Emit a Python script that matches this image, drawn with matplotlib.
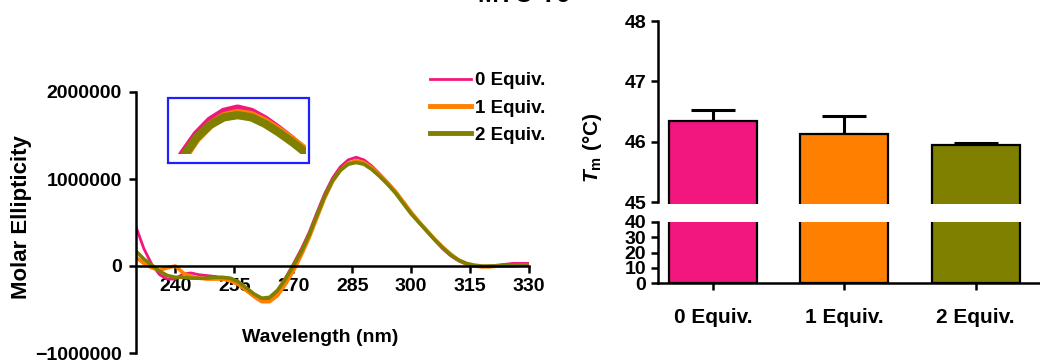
import numpy as np
import matplotlib
matplotlib.use("Agg")
import matplotlib.pyplot as plt
from matplotlib.patches import Rectangle

plt.rcParams['font.family'] = ['Liberation Sans', 'DejaVu Sans']
plt.rcParams['font.weight'] = 'bold'
plt.rcParams['mathtext.fontset'] = 'custom'
plt.rcParams['mathtext.it'] = 'Liberation Sans:italic:bold'
plt.rcParams['mathtext.rm'] = 'Liberation Sans:bold'

# CD spectra (molar ellipticity, in millions)
wavelength = np.arange(230, 331, 2)
ellip_0 = [0.45, 0.20, 0.02, -0.10, -0.15, -0.15, -0.09, -0.08, -0.10, -0.11,
           -0.12, -0.14, -0.17, -0.21, -0.27, -0.34, -0.39, -0.38, -0.29, -0.14,
           0.02, 0.19, 0.38, 0.61, 0.83, 1.01, 1.14, 1.22, 1.25, 1.22,
           1.15, 1.06, 0.96, 0.85, 0.73, 0.61, 0.50, 0.40, 0.30, 0.20,
           0.12, 0.06, 0.02, 0.00, -0.01, 0.00, 0.01, 0.02, 0.03, 0.03, 0.03]
ellip_1 = [0.10, 0.03, -0.02, -0.05, -0.02, 0.00, -0.08, -0.12, -0.14, -0.15,
           -0.15, -0.15, -0.17, -0.21, -0.28, -0.35, -0.41, -0.41, -0.34, -0.21,
           -0.06, 0.12, 0.32, 0.55, 0.78, 0.97, 1.10, 1.18, 1.21, 1.19,
           1.13, 1.05, 0.96, 0.86, 0.74, 0.62, 0.51, 0.41, 0.31, 0.22,
           0.14, 0.07, 0.03, 0.00, -0.01, -0.01, 0.00, 0.00, 0.00, 0.01, 0.01]
ellip_2 = [0.17, 0.08, 0.01, -0.06, -0.11, -0.13, -0.13, -0.14, -0.14, -0.14,
           -0.13, -0.13, -0.14, -0.18, -0.25, -0.32, -0.37, -0.36, -0.28, -0.15,
           0.00, 0.16, 0.35, 0.58, 0.80, 0.98, 1.10, 1.17, 1.19, 1.17,
           1.11, 1.03, 0.94, 0.84, 0.72, 0.60, 0.50, 0.40, 0.30, 0.21,
           0.13, 0.07, 0.03, 0.01, 0.00, 0.00, 0.00, 0.01, 0.01, 0.01, 0.01]

# melting temperatures
equiv = ['0 Equiv.', '1 Equiv.', '2 Equiv.']
tm_mean = [46.35, 46.12, 45.95]
tm_err = [0.17, 0.30, 0.03]

colors = ['#F2167F', '#FF8000', '#808000']
widths = [2.0, 2.6, 2.6]
series = [ellip_0, ellip_1, ellip_2]

W, H = 1040, 362
fig = plt.figure(figsize=(W/100, H/100), dpi=100)


def fbox(x0, y0, x1, y1):
    # pixel box (top-left origin) -> figure fraction rect
    return [x0/W, 1-y1/H, (x1-x0)/W, (y1-y0)/H]


# ---- left: CD spectra ----
ax = fig.add_axes(fbox(136, 92, 529, 353))
for ys, c, lw, lab in zip(series, colors, widths, equiv):
    ax.plot(wavelength, np.array(ys)*1e6, color=c, lw=lw, label=lab,
            solid_joinstyle='round')
ax.set_xlim(230, 330)
ax.set_ylim(-1e6, 2e6)
ax.spines['top'].set_visible(False)
ax.spines['right'].set_visible(False)
ax.spines['bottom'].set_position(('data', 0))
for s in ['left', 'bottom']:
    ax.spines[s].set_linewidth(1.8)
ax.set_xticks(np.arange(240, 331, 15))
ax.set_yticks([-1e6, 0, 1e6, 2e6])
ax.ticklabel_format(axis='y', style='plain', useOffset=False)
ax.tick_params(axis='both', direction='out', length=5, width=1.8, labelsize=14)
ax.tick_params(axis='x', pad=3.5)
ax.tick_params(axis='y', pad=5)
for t in ax.get_xticklabels() + ax.get_yticklabels():
    t.set_fontweight('bold')

fig.text(22/W, 1-217/H, 'Molar Ellipticity', rotation=90, ha='center', va='center',
         fontsize=16, fontweight='bold')
fig.text(320/W, 1-338/H, 'Wavelength (nm)', ha='center', va='center',
         fontsize=14, fontweight='bold')

leg = ax.legend(loc='upper left', bbox_to_anchor=(430/W, 1-72/H),
                bbox_transform=fig.transFigure, frameon=False, fontsize=13.5,
                handlelength=2.2, handletextpad=0.2, labelspacing=0.55,
                borderpad=0, borderaxespad=0)
for h, lw in zip(leg.get_lines(), [2.0, 3.5, 3.5]):
    h.set_linewidth(lw)

# inset: zoom on the positive peak
fig.add_artist(Rectangle((168/W, 1-163/H), 141/W, 65/H, transform=fig.transFigure,
                         fill=False, edgecolor='#1f1fff', lw=1.6))
axi = fig.add_axes(fbox(176, 100, 306, 154))
for ys, c in zip(series, colors):
    axi.plot(wavelength, np.array(ys)*1e6, color=c, lw=6, solid_joinstyle='round')
axi.set_xlim(277, 296)
axi.set_ylim(0.83e6, 1.33e6)
axi.axis('off')

fig.text(524/W, 1-2/H, 'MYC-T6', ha='center', va='baseline', fontsize=18,
         fontweight='bold')

# ---- right: Tm bars with broken axis ----
x = np.arange(len(equiv))
ax_t = fig.add_axes(fbox(658, 21, 1040, 204))
ax_b = fig.add_axes(fbox(658, 222, 1040, 283))
for a in [ax_t, ax_b]:
    a.bar(x, tm_mean, width=0.67, color=colors, edgecolor='black', linewidth=1.6,
          zorder=2)
    a.set_xlim(-0.42, 2.49)
    a.spines['top'].set_visible(False)
    a.spines['right'].set_visible(False)
    a.spines['left'].set_linewidth(1.8)
    a.spines['bottom'].set_linewidth(1.8)
    a.tick_params(axis='y', direction='out', length=5, width=1.8, labelsize=14, pad=3.5)

ax_t.errorbar(x, tm_mean, yerr=[np.zeros(len(tm_err)), tm_err], fmt='none',
              ecolor='black', elinewidth=2.2, capsize=16, capthick=2.2, zorder=1)
ax_t.set_ylim(44.967, 48)
ax_t.spines['bottom'].set_visible(False)
ax_t.spines['left'].set_bounds(45, 48)
ax_t.set_yticks([45, 46, 47, 48])
ax_t.set_xticks([])

ax_b.set_ylim(0, 40)
ax_b.set_yticks([0, 10, 20, 30, 40])
ax_b.set_xticks(x)
ax_b.set_xticklabels(equiv)
ax_b.tick_params(axis='x', direction='out', length=5, width=1.8, labelsize=15, pad=13)
for a in [ax_t, ax_b]:
    for t in a.get_xticklabels() + a.get_yticklabels():
        t.set_fontweight('bold')

fig.text(593/W, 1-148/H, r'$T_{\mathrm{m}}$ (°C)', rotation=90, ha='center',
         va='center', fontsize=15, fontweight='bold')

fig.savefig('out.png', dpi=100)
